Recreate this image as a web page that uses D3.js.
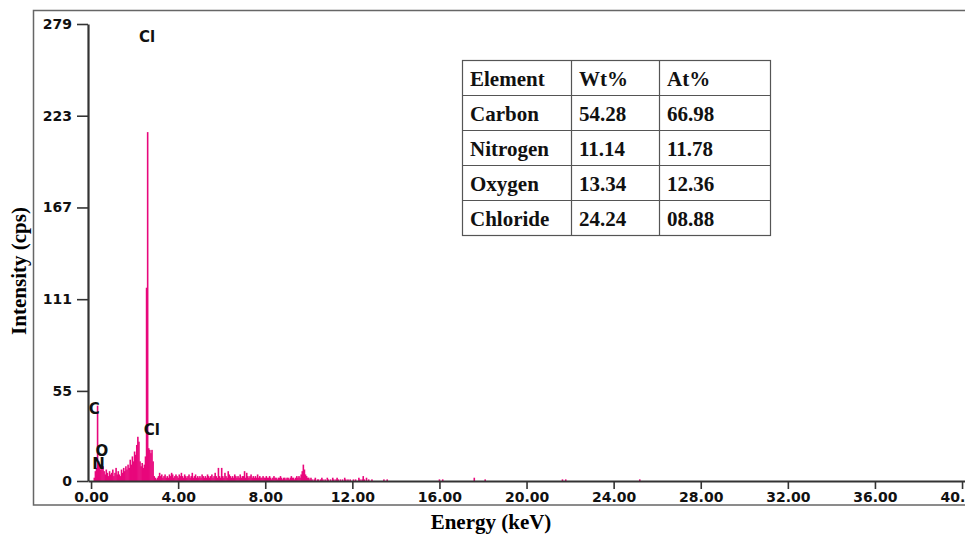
<!DOCTYPE html>
<html>
<head>
<meta charset="utf-8">
<script src="https://cdn.jsdelivr.net/npm/d3@7"></script>
<style>
  body { margin: 0; background: #fff; }
  svg { display: block; }
</style>
</head>
<body>
<svg id="chart" width="965" height="534"></svg>
<script>
// spectrum counts, one value per 0.05 keV bin starting at 0.00 keV
const binWidth = 0.05;
const counts = [
  0, 0, 0, 2, 6, 8, 46, 12, 10, 7,          // 0.00 - 0.45
  13, 9, 6, 4, 7, 5, 3, 6, 4, 5,            // 0.50 - 0.95
  7, 3, 5, 8, 4, 6, 4, 3, 7, 5,             // 1.00 - 1.45
  8, 6, 9, 7, 10, 8, 13, 10, 15, 12,        // 1.50 - 1.95
  18, 16, 22, 27, 24, 12, 9, 11, 8, 10,     // 2.00 - 2.45
  15, 118, 213, 20, 19, 17, 19, 12, 3, 2,   // 2.50 - 2.95
  1, 2, 3, 5, 3, 4, 2, 3, 4, 2,             // 3.00 - 3.45
  3, 2, 4, 3, 5, 4, 2, 3, 4, 3,             // 3.50 - 3.95
  2, 4, 3, 5, 3, 2, 4, 3, 2, 3,             // 4.00 - 4.45
  4, 2, 3, 5, 2, 3, 4, 2, 3, 2,             // 4.50 - 4.95
  3, 2, 4, 3, 2, 3, 2, 4, 3, 2,             // 5.00 - 5.45
  3, 4, 2, 3, 5, 3, 2, 8, 3, 2,             // 5.50 - 5.95
  8, 3, 2, 5, 3, 2, 6, 4, 3, 2,             // 6.00 - 6.45
  3, 2, 4, 3, 2, 3, 2, 4, 2, 3,             // 6.50 - 6.95
  3, 6, 2, 5, 3, 2, 3, 4, 2, 3,             // 7.00 - 7.45
  2, 3, 2, 4, 2, 3, 2, 2, 3, 2,             // 7.50 - 7.95
  2, 3, 2, 2, 3, 2, 1, 2, 3, 2,             // 8.00 - 8.45
  2, 1, 2, 2, 3, 2, 1, 2, 2, 1,             // 8.50 - 8.95
  2, 2, 1, 2, 3, 2, 2, 1, 2, 3,             // 9.00 - 9.45
  2, 3, 2, 4, 6, 10, 7, 4, 3, 2,            // 9.50 - 9.95
  2, 1, 2, 1, 0, 1, 2, 0, 1, 1,             // 10.00 - 10.45
  0, 1, 2, 1, 0, 1, 0, 2, 1, 0,             // 10.50 - 10.95
  1, 0, 2, 1, 0, 1, 2, 1, 0, 1,             // 11.00 - 11.45
  0, 1, 0, 2, 1, 0, 1, 0, 1, 0,             // 11.50 - 11.95
  0, 1, 0, 1, 0, 0, 2, 1, 0, 1,             // 12.00 - 12.45
  3, 1, 0, 2, 0, 1, 0, 0, 1, 0              // 12.50 - 12.95
];

// isolated counts further out
const tailEnergy = [13.45, 13.6, 16.0, 16.15, 17.6, 18.1, 21.65, 21.8, 25.2];
const tailCounts = [1, 1, 1, 1, 2, 1, 1, 1, 1];

// peak labels (energy, intensity where the label sits)
const peakNames = ["Cl", "C", "Cl", "O", "N"];
const peakEnergy = [2.2, -0.1, 2.42, 0.2, 0.05];
const peakLevel = [268, 41, 28, 15.5, 7.5];

const xTicks = [0, 4, 8, 12, 16, 20, 24, 28, 32, 36, 40];
const yTicks = [0, 55, 111, 167, 223, 279];

// composition table
const tableHead = ["Element", "Wt%", "At%"];
const elements = ["Carbon", "Nitrogen", "Oxygen", "Chloride"];
const wtPct = ["54.28", "11.14", "13.34", "24.24"];
const atPct = ["66.98", "11.78", "12.36", "08.88"];

const pink = "#e8077c";
const axisColor = "#333";

const svg = d3.select("#chart");

//Outer frame around the whole figure
svg.append("rect")
  .attr("x", 33.5).attr("y", 10.5)
  .attr("width", 945).attr("height", 494.5)
  .attr("fill", "none")
  .attr("stroke", "#666")
  .attr("stroke-width", 1.5);

//Scales
const x = d3.scaleLinear().domain([-0.14, 40.2]).range([88, 966.4]);
const y = d3.scaleLinear().domain([0, 279]).range([481, 24]);

//Spectrum bars
const bins = counts.map((c, i) => ({ e: i * binWidth, c }))
  .concat(tailEnergy.map((e, i) => ({ e, c: tailCounts[i] })))
  .filter((d) => d.c > 0);

const barW = x(binWidth) - x(0) + 0.5;

svg.append("g")
  .selectAll("rect")
  .data(bins)
  .join("rect")
  .attr("x", (d) => x(d.e) - barW / 2)
  .attr("width", barW)
  .attr("y", (d) => y(d.c))
  .attr("height", (d) => y(0) - y(d.c))
  .attr("fill", pink);

//Axes
const xAxis = svg.append("g")
  .attr("transform", "translate(0," + y(0) + ")")
  .call(d3.axisBottom(x).tickValues(xTicks).tickFormat(d3.format(".2f"))
    .tickSize(8).tickSizeOuter(0).tickPadding(3));

const yAxis = svg.append("g")
  .attr("transform", "translate(" + x(-0.14) + ",0)")
  .call(d3.axisLeft(y).tickValues(yTicks).tickFormat(d3.format("d"))
    .tickSize(11).tickSizeOuter(0).tickPadding(5));

[xAxis, yAxis].forEach((g) => {
  g.select(".domain").attr("stroke", axisColor).attr("stroke-width", 2.2);
  g.selectAll(".tick line").attr("stroke", axisColor).attr("stroke-width", 1.6);
  g.selectAll(".tick text")
    .attr("fill", "#111")
    .style("font-family", "'DejaVu Sans', Verdana, sans-serif")
    .style("font-weight", "bold")
    .style("font-size", "14px");
});

//Axis titles
svg.append("text")
  .attr("x", 491).attr("y", 529)
  .attr("text-anchor", "middle")
  .style("font-family", "'Liberation Serif', 'Times New Roman', serif")
  .style("font-weight", "bold")
  .style("font-size", "21px")
  .text("Energy (keV)");

svg.append("text")
  .attr("transform", "translate(26,271) rotate(-90)")
  .attr("text-anchor", "middle")
  .style("font-family", "'Liberation Serif', 'Times New Roman', serif")
  .style("font-weight", "bold")
  .style("font-size", "21px")
  .text("Intensity (cps)");

//Peak labels
svg.append("g")
  .selectAll("text")
  .data(peakNames)
  .join("text")
  .attr("x", (d, i) => x(peakEnergy[i]))
  .attr("y", (d, i) => y(peakLevel[i]))
  .attr("fill", "#111")
  .style("font-family", "'DejaVu Sans', Verdana, sans-serif")
  .style("font-weight", "bold")
  .style("font-size", "15px")
  .text((d) => d);

//Composition table
const table = { top: 60, rowH: 35, cols: [462, 571, 659, 770], pad: 8 };
const rows = [tableHead].concat(elements.map((el, i) => [el, wtPct[i], atPct[i]]));
const tg = svg.append("g");
const tableBottom = table.top + rows.length * table.rowH;

tg.append("rect")
  .attr("x", table.cols[0] + 0.5).attr("y", table.top + 0.5)
  .attr("width", table.cols[3] - table.cols[0]).attr("height", rows.length * table.rowH)
  .attr("fill", "#fff").attr("stroke", "#555").attr("stroke-width", 1.2);

tg.selectAll("line.row")
  .data(d3.range(1, rows.length))
  .join("line")
  .attr("x1", table.cols[0]).attr("x2", table.cols[3])
  .attr("y1", (d) => table.top + d * table.rowH + 0.5)
  .attr("y2", (d) => table.top + d * table.rowH + 0.5)
  .attr("stroke", "#555").attr("stroke-width", 1.2);

tg.selectAll("line.col")
  .data([1, 2])
  .join("line")
  .attr("x1", (d) => table.cols[d] + 0.5).attr("x2", (d) => table.cols[d] + 0.5)
  .attr("y1", table.top).attr("y2", tableBottom)
  .attr("stroke", "#555").attr("stroke-width", 1.2);

rows.forEach((r, ri) => {
  r.forEach((cell, ci) => {
    tg.append("text")
      .attr("x", table.cols[ci] + table.pad)
      .attr("y", table.top + ri * table.rowH + 26)
      .attr("fill", "#111")
      .style("font-family", "'Liberation Serif', 'Times New Roman', serif")
      .style("font-weight", "bold")
      .style("font-size", "21px")
      .text(cell);
  });
});
</script>
</body>
</html>
